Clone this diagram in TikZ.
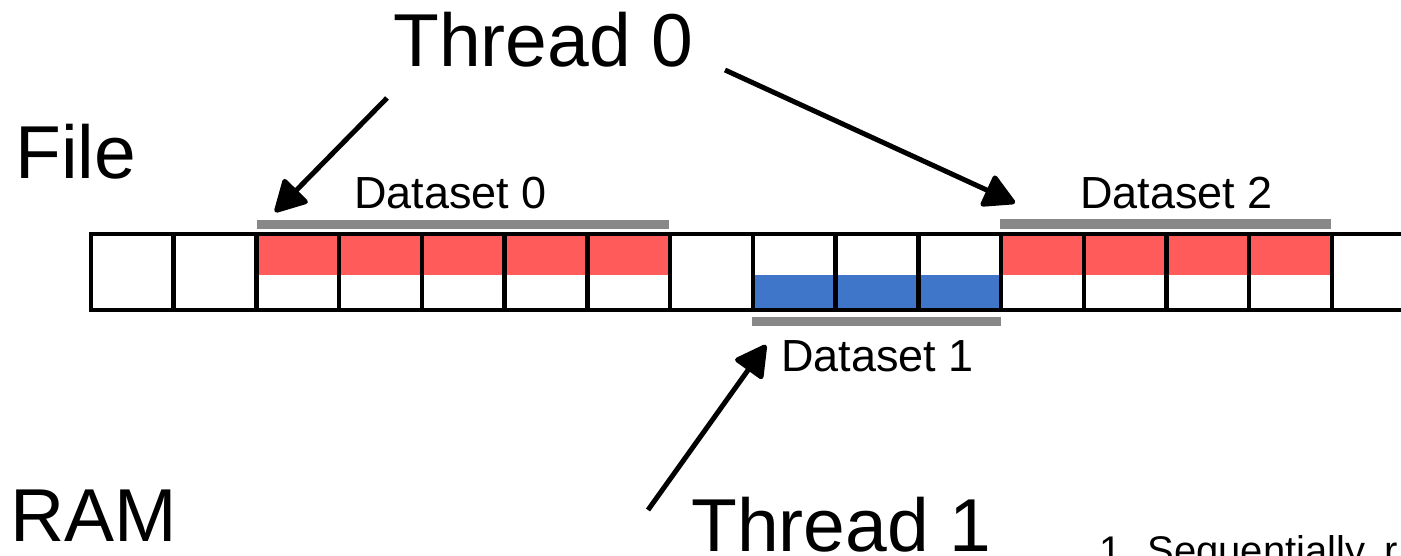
\documentclass[tikz,border=0pt]{standalone}
\usepackage{fontspec}
\setmainfont{Liberation Sans}
\usetikzlibrary{arrows.meta}
\definecolor{dsred}{HTML}{FF5B5B}
\definecolor{dsblue}{HTML}{3F76C9}
\definecolor{dsgray}{HTML}{888888}
\tikzset{
  big/.style={anchor=base west,inner sep=0pt,font=\fontsize{75}{90}\selectfont},
  mid/.style={anchor=base west,inner sep=0pt,font=\fontsize{45}{54}\selectfont},
  small/.style={anchor=base west,inner sep=0pt,font=\fontsize{40}{48}\selectfont},
  strip/.style={line width=4.5pt,black},
  bar/.style={fill=dsgray,draw=none},
  ptr/.style={line width=5pt,line join=round,-{Triangle[length=34pt,width=36pt,round]}},
}
\begin{document}
\begin{tikzpicture}[x=1pt,y=-1pt]
\useasboundingbox (0,0) rectangle (1401,556);
\clip (0,0) rectangle (1401,556);
% fills
\fill[dsred] (257,236) rectangle (672,275);
\fill[dsred] (1000,236) rectangle (1332,275);
\fill[dsblue] (755,275) rectangle (1000,308);
% strip outline
\draw[strip] (1420,234) -- (91,234) -- (91,310) -- (1420,310);
\foreach \i in {1,...,15} {
  \draw[strip] ({91+82.73*\i},234) -- ({91+82.73*\i},310);
}
% dataset bars
\fill[bar] (257,220) rectangle (669,229);
\fill[bar] (752,317) rectangle (1001,326);
\fill[bar] (1000,219) rectangle (1331,229);
% labels
\node[big] (t0) at (393,67) {Thread 0};
\node[big] (file) at (15,179) {File};
\node[big] (ram) at (10,541) {RAM};
\node[big] (t1) at (691,551) {Thread 1};
\node[mid] (d0) at (354,209) {Dataset 0};
\node[mid] (d2) at (1080,209) {Dataset 2};
\node[mid] (d1) at (781,371) {Dataset 1};
\node[small] (note) at (1099,564) {1. Sequentially, r};
% arrows
\coordinate (a0s) at (387,98);
\coordinate (a0e) at (275,212);
\coordinate (a2s) at (725,70);
\coordinate (a2e) at (1015,203);
\coordinate (a1s) at (648,510);
\coordinate (a1e) at (766,345);
\draw[ptr] (a0s) -- (a0e);
\draw[ptr] (a2s) -- (a2e);
\draw[ptr] (a1s) -- (a1e);
\end{tikzpicture}
\end{document}
